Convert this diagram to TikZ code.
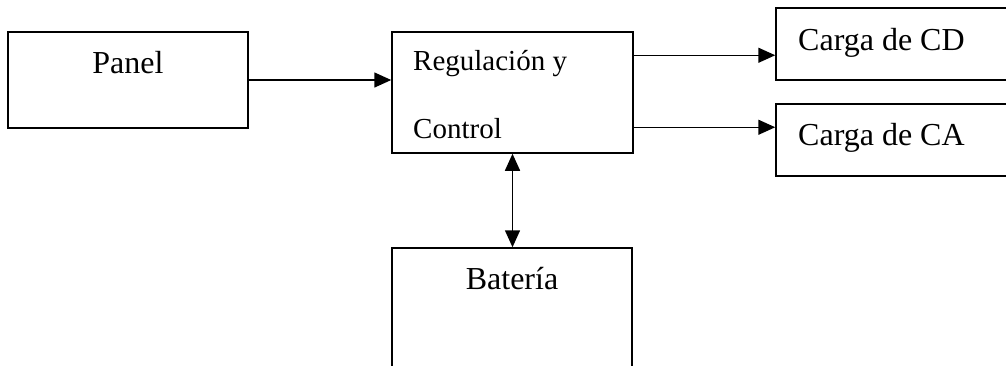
\documentclass[tikz,border=0pt]{standalone}
\usepackage{fontspec}
\setmainfont{Liberation Serif}
\usetikzlibrary{arrows.meta,calc}
\begin{document}
\begin{tikzpicture}[x=1pt,y=-1pt,
  box/.style={draw, line width=1.5pt, inner sep=0pt, rectangle},
  lbl/.style={inner sep=0pt, anchor=base west, font=\fontsize{32}{38}\selectfont},
  lblc/.style={inner sep=0pt, anchor=base, font=\fontsize{32}{38}\selectfont},
  lbls/.style={inner sep=0pt, anchor=base west, font=\fontsize{29}{34}\selectfont},
  conn/.style={line width=1.5pt, -{Triangle[length=17pt,width=15pt]}},
  conn2/.style={line width=1.5pt, {Triangle[length=17pt,width=15pt]}-{Triangle[length=17pt,width=15pt]}}]
\useasboundingbox (0,0) rectangle (1006,365);
\clip (0,0) rectangle (1006,365);
\node[box, minimum width=240pt, minimum height=96pt] (panel) at (128,80) {};
\node[box, minimum width=241pt, minimum height=121pt] (reg) at (512.5,92.5) {};
\node[box, minimum width=254pt, minimum height=72pt] (cd) at (903,44) {};
\node[box, minimum width=254pt, minimum height=72pt] (ca) at (903,140) {};
\node[box, minimum width=240pt, minimum height=152pt] (bat) at (512,324) {};
\node[lblc] (tpanel) at (128,73) {Panel};
\node[lbls] (treg1) at (413,70) {Regulación y};
\node[lbls] (treg2) at (413,138) {Control};
\node[lbl] (tcd) at (798,50) {Carga de CD};
\node[lbl] (tca) at (798,145) {Carga de CA};
\node[lblc] (tbat) at (512,289) {Batería};
\draw[conn] (panel.east) -- (panel.east -| reg.west);
\draw[conn] ($(reg.north east)+(0,24)$) coordinate (o1) -- (o1 -| cd.west);
\draw[conn] ($(reg.north east)+(0,96)$) coordinate (o2) -- (o2 -| ca.west);
\draw[conn2] (reg.south) -- (reg.south |- bat.north);
\end{tikzpicture}
\end{document}
